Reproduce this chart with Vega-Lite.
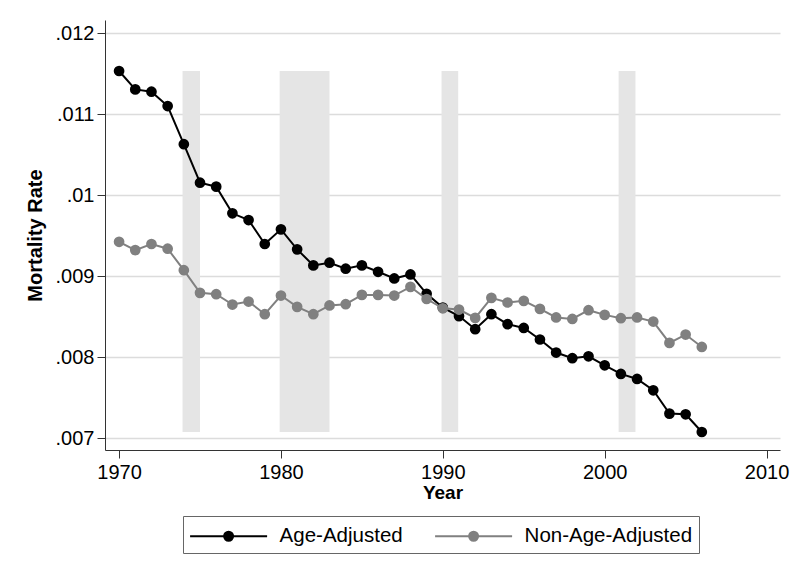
{
  "$schema": "https://vega.github.io/schema/vega-lite/v6.json",
  "width": 675,
  "height": 430,
  "autosize": {"type": "none"},
  "padding": {"left": 105, "top": 20, "right": 20, "bottom": 122},
  "background": "white",
  "config": {
    "view": {"stroke": null},
    "font": "Liberation Sans",
    "axis": {"labelFont": "Liberation Sans", "titleFont": "Liberation Sans", "labelColor": "#000", "titleColor": "#000"}
  },
  "datasets": {
    "bands": [
      {"start": 1973.92, "end": 1975.0, "lo": 0.007074, "hi": 0.011531},
      {"start": 1979.92, "end": 1983.0, "lo": 0.007074, "hi": 0.011531},
      {"start": 1989.92, "end": 1990.95, "lo": 0.007074, "hi": 0.011531},
      {"start": 2000.86, "end": 2001.9, "lo": 0.007074, "hi": 0.011531}
    ],
    "series": [
      {"series": "Age-Adjusted", "year": 1970, "rate": 0.011531},
      {"series": "Age-Adjusted", "year": 1971, "rate": 0.011304},
      {"series": "Age-Adjusted", "year": 1972, "rate": 0.011275},
      {"series": "Age-Adjusted", "year": 1973, "rate": 0.011098},
      {"series": "Age-Adjusted", "year": 1974, "rate": 0.010627},
      {"series": "Age-Adjusted", "year": 1975, "rate": 0.010152},
      {"series": "Age-Adjusted", "year": 1976, "rate": 0.010103},
      {"series": "Age-Adjusted", "year": 1977, "rate": 0.009774},
      {"series": "Age-Adjusted", "year": 1978, "rate": 0.009691},
      {"series": "Age-Adjusted", "year": 1979, "rate": 0.009395},
      {"series": "Age-Adjusted", "year": 1980, "rate": 0.009576},
      {"series": "Age-Adjusted", "year": 1981, "rate": 0.009329},
      {"series": "Age-Adjusted", "year": 1982, "rate": 0.009131},
      {"series": "Age-Adjusted", "year": 1983, "rate": 0.009164},
      {"series": "Age-Adjusted", "year": 1984, "rate": 0.009090},
      {"series": "Age-Adjusted", "year": 1985, "rate": 0.009131},
      {"series": "Age-Adjusted", "year": 1986, "rate": 0.009052},
      {"series": "Age-Adjusted", "year": 1987, "rate": 0.008970},
      {"series": "Age-Adjusted", "year": 1988, "rate": 0.009019},
      {"series": "Age-Adjusted", "year": 1989, "rate": 0.008780},
      {"series": "Age-Adjusted", "year": 1990, "rate": 0.008610},
      {"series": "Age-Adjusted", "year": 1991, "rate": 0.008505},
      {"series": "Age-Adjusted", "year": 1992, "rate": 0.008343},
      {"series": "Age-Adjusted", "year": 1993, "rate": 0.008528},
      {"series": "Age-Adjusted", "year": 1994, "rate": 0.008405},
      {"series": "Age-Adjusted", "year": 1995, "rate": 0.008359},
      {"series": "Age-Adjusted", "year": 1996, "rate": 0.008216},
      {"series": "Age-Adjusted", "year": 1997, "rate": 0.008055},
      {"series": "Age-Adjusted", "year": 1998, "rate": 0.007985},
      {"series": "Age-Adjusted", "year": 1999, "rate": 0.008009},
      {"series": "Age-Adjusted", "year": 2000, "rate": 0.007898},
      {"series": "Age-Adjusted", "year": 2001, "rate": 0.007791},
      {"series": "Age-Adjusted", "year": 2002, "rate": 0.007729},
      {"series": "Age-Adjusted", "year": 2003, "rate": 0.007589},
      {"series": "Age-Adjusted", "year": 2004, "rate": 0.007301},
      {"series": "Age-Adjusted", "year": 2005, "rate": 0.007293},
      {"series": "Age-Adjusted", "year": 2006, "rate": 0.007074},
      {"series": "Non-Age-Adjusted", "year": 1970, "rate": 0.009422},
      {"series": "Non-Age-Adjusted", "year": 1971, "rate": 0.009320},
      {"series": "Non-Age-Adjusted", "year": 1972, "rate": 0.009395},
      {"series": "Non-Age-Adjusted", "year": 1973, "rate": 0.009337},
      {"series": "Non-Age-Adjusted", "year": 1974, "rate": 0.009072},
      {"series": "Non-Age-Adjusted", "year": 1975, "rate": 0.008792},
      {"series": "Non-Age-Adjusted", "year": 1976, "rate": 0.008775},
      {"series": "Non-Age-Adjusted", "year": 1977, "rate": 0.008648},
      {"series": "Non-Age-Adjusted", "year": 1978, "rate": 0.008685},
      {"series": "Non-Age-Adjusted", "year": 1979, "rate": 0.008528},
      {"series": "Non-Age-Adjusted", "year": 1980, "rate": 0.008759},
      {"series": "Non-Age-Adjusted", "year": 1981, "rate": 0.008619},
      {"series": "Non-Age-Adjusted", "year": 1982, "rate": 0.008528},
      {"series": "Non-Age-Adjusted", "year": 1983, "rate": 0.008636},
      {"series": "Non-Age-Adjusted", "year": 1984, "rate": 0.008652},
      {"series": "Non-Age-Adjusted", "year": 1985, "rate": 0.008767},
      {"series": "Non-Age-Adjusted", "year": 1986, "rate": 0.008767},
      {"series": "Non-Age-Adjusted", "year": 1987, "rate": 0.008759},
      {"series": "Non-Age-Adjusted", "year": 1988, "rate": 0.008866},
      {"series": "Non-Age-Adjusted", "year": 1989, "rate": 0.008716},
      {"series": "Non-Age-Adjusted", "year": 1990, "rate": 0.008601},
      {"series": "Non-Age-Adjusted", "year": 1991, "rate": 0.008586},
      {"series": "Non-Age-Adjusted", "year": 1992, "rate": 0.008483},
      {"series": "Non-Age-Adjusted", "year": 1993, "rate": 0.008730},
      {"series": "Non-Age-Adjusted", "year": 1994, "rate": 0.008673},
      {"series": "Non-Age-Adjusted", "year": 1995, "rate": 0.008693},
      {"series": "Non-Age-Adjusted", "year": 1996, "rate": 0.008594},
      {"series": "Non-Age-Adjusted", "year": 1997, "rate": 0.008488},
      {"series": "Non-Age-Adjusted", "year": 1998, "rate": 0.008470},
      {"series": "Non-Age-Adjusted", "year": 1999, "rate": 0.008578},
      {"series": "Non-Age-Adjusted", "year": 2000, "rate": 0.008520},
      {"series": "Non-Age-Adjusted", "year": 2001, "rate": 0.008479},
      {"series": "Non-Age-Adjusted", "year": 2002, "rate": 0.008488},
      {"series": "Non-Age-Adjusted", "year": 2003, "rate": 0.008438},
      {"series": "Non-Age-Adjusted", "year": 2004, "rate": 0.008174},
      {"series": "Non-Age-Adjusted", "year": 2005, "rate": 0.008277},
      {"series": "Non-Age-Adjusted", "year": 2006, "rate": 0.008124}
    ]
  },
  "layer": [
    {
      "data": {"name": "bands"},
      "mark": {"type": "rect", "color": "#e5e5e5"},
      "encoding": {
        "x": {"field": "start", "type": "quantitative", "scale": {"domain": [1969.13, 2010.83], "nice": false, "zero": false},
          "axis": {"values": [1970, 1980, 1990, 2000, 2010], "format": "d", "grid": false, "title": "Year",
            "labelFontSize": 20, "titleFontSize": 19, "titleFontWeight": "bold", "tickSize": 8, "labelPadding": 4,
            "titlePadding": 1, "domainColor": "#333", "tickColor": "#333", "labelFlush": false}},
        "x2": {"field": "end"},
        "y": {"field": "lo", "type": "quantitative", "scale": {"domain": [0.0068519, 0.0121605], "nice": false, "zero": false},
          "axis": {"values": [0.007, 0.008, 0.009, 0.01, 0.011, 0.012], "labelExpr": "substring(format(datum.value, '.3~f'), 1)",
            "title": "Mortality Rate", "labelFontSize": 20, "titleFontSize": 20, "titleFontWeight": "bold", "tickSize": 8,
            "labelPadding": 3, "titlePadding": 10, "grid": true, "gridColor": "#dcdcdc", "gridWidth": 1.5,
            "domainColor": "#333", "tickColor": "#333", "labelFlush": false}},
        "y2": {"field": "hi"}
      }
    },
    {
      "data": {"name": "series"},
      "transform": [{"filter": "datum.series === 'Age-Adjusted'"}],
      "mark": {"type": "line", "strokeWidth": 2},
      "encoding": {
        "x": {"field": "year", "type": "quantitative"},
        "y": {"field": "rate", "type": "quantitative"},
        "color": {"field": "series", "type": "nominal",
          "scale": {"domain": ["Age-Adjusted", "Non-Age-Adjusted"], "range": ["#000000", "#808080"]},
          "legend": {"orient": "none", "legendX": 78, "legendY": 496, "direction": "horizontal", "title": null,
            "symbolType": "M-3,0H3M-0.35,0A0.35,0.35,0,1,1,0.35,0A0.35,0.35,0,1,1,-0.35,0",
            "symbolSize": 659, "symbolStrokeWidth": 2, "labelFontSize": 20.5, "labelFont": "Liberation Sans", "labelColor": "#000",
            "labelLimit": 400,
            "strokeColor": "#666", "fillColor": "white", "padding": 6, "symbolOffset": 25.6, "labelOffset": 37, "columnPadding": 28,
            "encode": {"symbols": {"update": {"fill": {"scale": "color", "field": "value"}, "stroke": {"scale": "color", "field": "value"}, "opacity": {"value": 1}}}}}
        }
      }
    },
    {
      "data": {"name": "series"},
      "transform": [{"filter": "datum.series === 'Age-Adjusted'"}],
      "mark": {"type": "point", "filled": true, "size": 115, "opacity": 1},
      "encoding": {
        "x": {"field": "year", "type": "quantitative"},
        "y": {"field": "rate", "type": "quantitative"},
        "color": {"field": "series", "type": "nominal", "legend": null}
      }
    },
    {
      "data": {"name": "series"},
      "transform": [{"filter": "datum.series === 'Non-Age-Adjusted'"}],
      "mark": {"type": "line", "strokeWidth": 2},
      "encoding": {
        "x": {"field": "year", "type": "quantitative"},
        "y": {"field": "rate", "type": "quantitative"},
        "color": {"field": "series", "type": "nominal", "legend": null}
      }
    },
    {
      "data": {"name": "series"},
      "transform": [{"filter": "datum.series === 'Non-Age-Adjusted'"}],
      "mark": {"type": "point", "filled": true, "size": 115, "opacity": 1},
      "encoding": {
        "x": {"field": "year", "type": "quantitative"},
        "y": {"field": "rate", "type": "quantitative"},
        "color": {"field": "series", "type": "nominal", "legend": null}
      }
    }
  ]
}
